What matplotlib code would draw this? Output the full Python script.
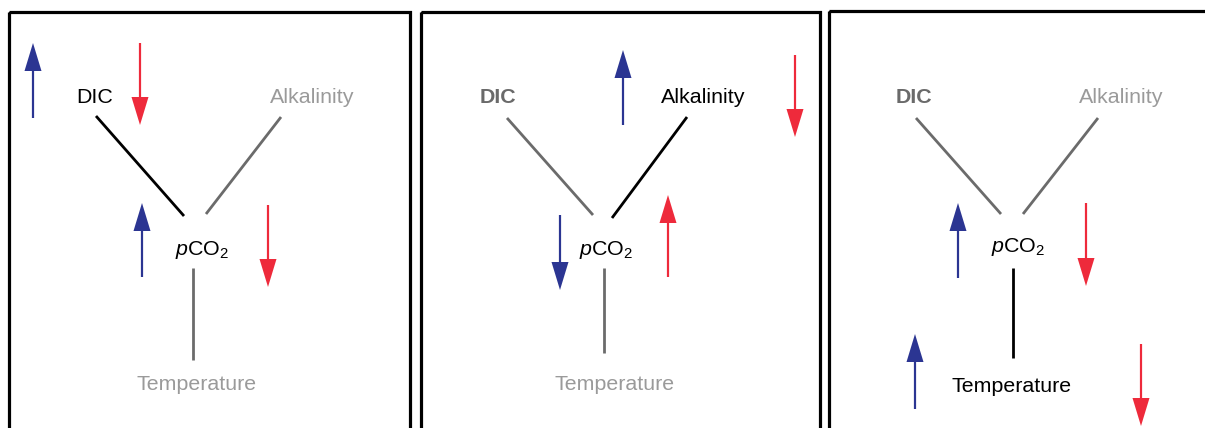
import matplotlib
matplotlib.use("Agg")
import matplotlib.pyplot as plt
from matplotlib.patches import Rectangle

plt.rcParams['font.family'] = ['Liberation Sans', 'DejaVu Sans']
plt.rcParams['mathtext.fontset'] = 'custom'
plt.rcParams['mathtext.rm'] = 'Liberation Sans'
plt.rcParams['mathtext.it'] = 'Liberation Sans:italic'

W, H = 1205, 428

BLUE = '#2b3592'
RED = '#ee2a3b'
BLACK = '#000000'
LINE_GRAY = '#6b6b6b'
TEXT_GRAY = '#9a9a9a'
DARK_GRAY = '#6a6a6a'

# panel frames: left, right, top (pixels)
panel_left = [9, 420.5, 829]
panel_right = [410, 819.5, 1215]
panel_top = [11.5, 11.5, 11]

# labels: (panel, text, x, y, color, weight)
labels = [
    (0, 'DIC', 95, 97, BLACK, 'normal'),
    (0, 'Alkalinity', 312, 97, TEXT_GRAY, 'normal'),
    (0, r'$\it{p}\rm{CO}_2$', 202, 250, BLACK, 'normal'),
    (0, 'Temperature', 197, 385, TEXT_GRAY, 'normal'),
    (1, 'DIC', 498, 97, DARK_GRAY, 'bold'),
    (1, 'Alkalinity', 703, 97, BLACK, 'normal'),
    (1, r'$\it{p}\rm{CO}_2$', 606, 250, BLACK, 'normal'),
    (1, 'Temperature', 615, 385, TEXT_GRAY, 'normal'),
    (2, 'DIC', 914, 97, DARK_GRAY, 'bold'),
    (2, 'Alkalinity', 1121, 97, TEXT_GRAY, 'normal'),
    (2, r'$\it{p}\rm{CO}_2$', 1018, 247, BLACK, 'normal'),
    (2, 'Temperature', 1012, 387, BLACK, 'normal'),
]

# connector lines: (x0, y0, x1, y1, color)
links = [
    (96, 116, 184, 216, BLACK),
    (281, 117, 206, 214, LINE_GRAY),
    (193, 268, 193, 360, LINE_GRAY),
    (507, 118, 593, 215, LINE_GRAY),
    (687, 117, 612, 218, BLACK),
    (604, 268, 604, 353, LINE_GRAY),
    (916, 118, 1001, 214, LINE_GRAY),
    (1098, 118, 1023, 214, LINE_GRAY),
    (1013, 268, 1013, 358, BLACK),
]

# arrows: (x, tail y, tip y, color)
arrows = [
    (33, 118, 43, BLUE),
    (140, 43, 125, RED),
    (142, 277, 203, BLUE),
    (268, 205, 287, RED),
    (623, 125, 50, BLUE),
    (795, 55, 137, RED),
    (560, 215, 290, BLUE),
    (668, 277, 195, RED),
    (958, 278, 203, BLUE),
    (1086, 203, 286, RED),
    (915, 409, 334, BLUE),
    (1141, 344, 426, RED),
]

fig = plt.figure(figsize=(W / 100, H / 100), dpi=100)
ax = fig.add_axes([0, 0, 1, 1])
ax.set_xlim(0, W)
ax.set_ylim(H, 0)
ax.axis('off')

for l, r, t in zip(panel_left, panel_right, panel_top):
    ax.add_patch(Rectangle((l, t), r - l, H + 20 - t, fill=False,
                           edgecolor='black', linewidth=2.3, clip_on=False))

for x0, y0, x1, y1, c in links:
    ax.plot([x0, x1], [y0, y1], color=c, linewidth=2.0, solid_capstyle='butt')

for x, y0, y1, c in arrows:
    ax.arrow(x, y0, 0, y1 - y0, width=2.2, head_width=17, head_length=28,
             length_includes_head=True, color=c, linewidth=0)

for p, s, x, y, c, w in labels:
    ax.text(x, y, s, color=c, fontsize=15.4, fontweight=w,
            ha='center', va='center')

fig.savefig('out.png', dpi=100)
